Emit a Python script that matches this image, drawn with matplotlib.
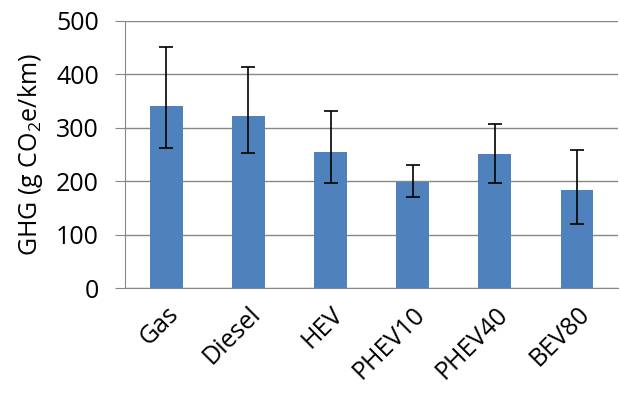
import matplotlib
matplotlib.use("Agg")
import matplotlib.pyplot as plt
import numpy as np

plt.rcParams['font.family'] = ['Open Sans', 'DejaVu Sans']
plt.rcParams['mathtext.fontset'] = 'custom'
plt.rcParams['mathtext.rm'] = 'Open Sans'
plt.rcParams['mathtext.it'] = 'Open Sans'

# data
vehicles = ['Gas', 'Diesel', 'HEV', 'PHEV10', 'PHEV40', 'BEV80']
ghg = [341, 323, 254, 199, 251, 183]
err_high = [451, 413, 331, 230, 307, 258]
err_low = [263, 253, 196, 171, 197, 119]

yerr = [np.array(ghg) - np.array(err_low), np.array(err_high) - np.array(ghg)]

fig = plt.figure(figsize=(6.2, 4.0), dpi=100)
ax = fig.add_axes([0.202, 0.28, 0.795, 0.6675])

x = np.arange(len(vehicles))
ax.bar(x, ghg, width=0.4, color='#4f81bd', zorder=3)
ax.errorbar(x, ghg, yerr=yerr, fmt='none', ecolor='black', elinewidth=1.2,
            capsize=5, capthick=1.2, zorder=4)

ax.set_xlim(-0.5, len(vehicles) - 0.5)
ax.set_ylim(0, 500)
ax.set_yticks([0, 100, 200, 300, 400, 500])
ax.yaxis.grid(True, color='#878787', linewidth=1, zorder=0)
ax.set_axisbelow(True)

for s in ['top', 'right']:
    ax.spines[s].set_visible(False)
ax.spines['left'].set_color('#878787')
ax.spines['bottom'].set_color('#878787')

ax.tick_params(axis='y', length=7, color='#878787', labelsize=18, pad=12)
ax.tick_params(axis='x', length=0, labelsize=18, pad=10)
ax.set_xticks(x)
ax.set_xticklabels(vehicles, rotation=45, ha='right', rotation_mode='anchor')

ax.set_ylabel('GHG (g CO$_2$e/km)', fontsize=18, labelpad=8)

fig.savefig('out.png', dpi=100)
